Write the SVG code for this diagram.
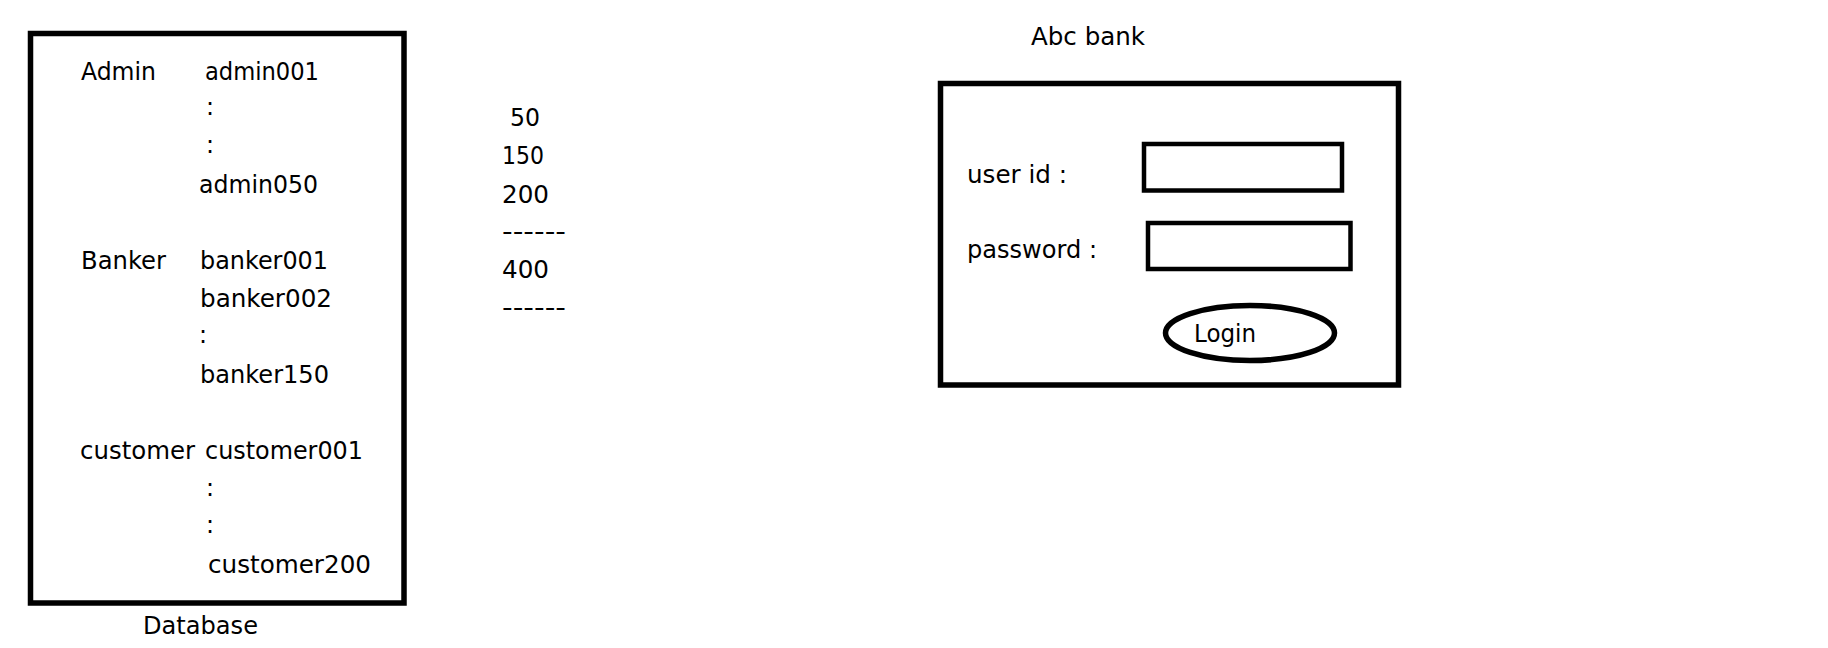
<svg xmlns="http://www.w3.org/2000/svg" width="1828" height="648" viewBox="0 0 1828 648">
<style>
text{font-family:"DejaVu Sans","Liberation Sans",sans-serif;font-size:24px;fill:#000}
.box{fill:none;stroke:#000;stroke-width:5.5}
.inp{fill:none;stroke:#000;stroke-width:4.5}
</style>
<rect width="1828" height="648" fill="#fff"/>
<g id="database">
<rect class="box" x="30.5" y="33.5" width="373.5" height="569.5"/>
<text x="81" y="80" textLength="75" lengthAdjust="spacingAndGlyphs">Admin</text>
<text x="205" y="80" textLength="114" lengthAdjust="spacingAndGlyphs">admin001</text>
<text x="206" y="115">:</text>
<text x="206" y="153">:</text>
<text x="199" y="193" textLength="119" lengthAdjust="spacingAndGlyphs">admin050</text>
<text x="81" y="269" textLength="85" lengthAdjust="spacingAndGlyphs">Banker</text>
<text x="200" y="269" textLength="128" lengthAdjust="spacingAndGlyphs">banker001</text>
<text x="200" y="307" textLength="132" lengthAdjust="spacingAndGlyphs">banker002</text>
<text x="199" y="343">:</text>
<text x="200" y="383" textLength="129" lengthAdjust="spacingAndGlyphs">banker150</text>
<text x="80" y="459" textLength="115" lengthAdjust="spacingAndGlyphs">customer</text>
<text x="205" y="459" textLength="158" lengthAdjust="spacingAndGlyphs">customer001</text>
<text x="206" y="496">:</text>
<text x="206" y="533">:</text>
<text x="208" y="573" textLength="163" lengthAdjust="spacingAndGlyphs">customer200</text>
<text x="143" y="634" textLength="115" lengthAdjust="spacingAndGlyphs">Database</text>
</g>
<g id="sum">
<text x="510" y="126" textLength="30" lengthAdjust="spacingAndGlyphs">50</text>
<text x="502" y="164" textLength="42" lengthAdjust="spacingAndGlyphs">150</text>
<text x="502" y="203" textLength="47" lengthAdjust="spacingAndGlyphs">200</text>
<text x="502" y="240" textLength="64" lengthAdjust="spacingAndGlyphs">------</text>
<text x="502" y="278" textLength="47" lengthAdjust="spacingAndGlyphs">400</text>
<text x="502" y="316" textLength="64" lengthAdjust="spacingAndGlyphs">------</text>
</g>
<g id="login-form">
<text x="1031" y="45" textLength="114" lengthAdjust="spacingAndGlyphs">Abc bank</text>
<rect class="box" x="940.5" y="83.5" width="458" height="301.5"/>
<text x="967" y="183" textLength="100" lengthAdjust="spacingAndGlyphs">user id :</text>
<rect class="inp" x="1144" y="144" width="198" height="46.5"/>
<text x="967" y="258" textLength="130" lengthAdjust="spacingAndGlyphs">password :</text>
<rect class="inp" x="1148" y="223" width="202.5" height="46"/>
<ellipse class="box" cx="1250" cy="333" rx="84.5" ry="27.5" stroke-width="5"/>
<text x="1194" y="342" textLength="62" lengthAdjust="spacingAndGlyphs">Login</text>
</g>
</svg>
